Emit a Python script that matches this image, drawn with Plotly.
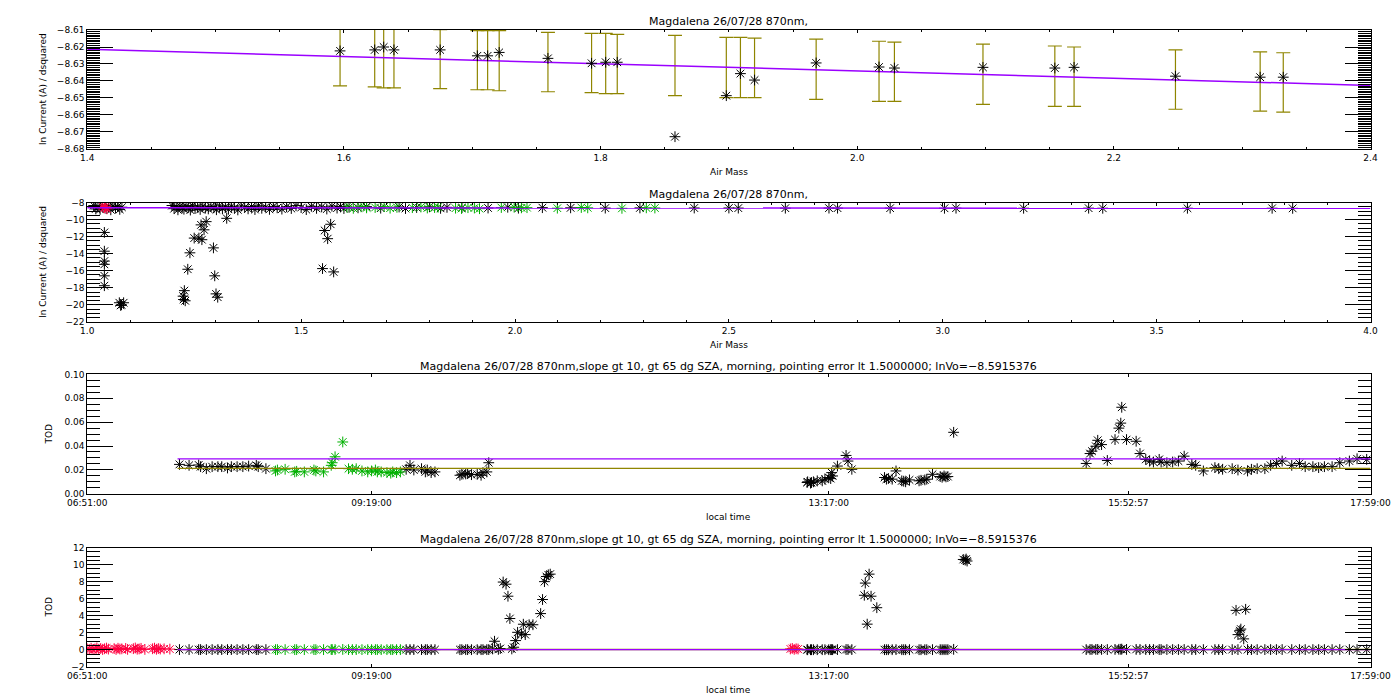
import plotly.graph_objects as go

# ---------------- constants from the chart ----------------
ln_vo = -8.5915376          # intercept (from title)
tau = 0.0213                # slope of the Langley fit / mean TOD
tod_upper = 0.0293          # upper TOD limit line
line_start, line_end = "07:38", "17:59"

title_short = "Magdalena 26/07/28 870nm,"
title_long = ("Magdalena 26/07/28 870nm,slope gt 10, gt 65 dg SZA, morning, "
              "pointing error lt 1.5000000; lnVo=\u22128.5915376")

# ---------------- panel 1: selected Langley points ----------------
am1 = [1.597, 1.624, 1.631, 1.639, 1.675, 1.704, 1.712, 1.721, 1.759, 1.793,
       1.804, 1.813, 1.858, 1.898, 1.909, 1.920, 1.968, 2.017, 2.029, 2.098,
       2.154, 2.169, 2.248, 2.314, 2.332]
ln1 = [-8.6223, -8.6217, -8.6200, -8.6217, -8.6217, -8.6252, -8.6252, -8.6232, -8.6267, -8.6296,
       -8.6290, -8.6290, -8.6729, -8.6487, -8.6357, -8.6395, -8.6294, -8.6318, -8.6324, -8.6320,
       -8.6324, -8.6320, -8.6372, -8.6378, -8.6378]
err_hi = [-8.6080, -8.6085, -8.6085, -8.6085, -8.6097, -8.6103, -8.6103, -8.6103, -8.6114, -8.6120,
          -8.6120, -8.6126, -8.6131, -8.6143, -8.6143, -8.6148, -8.6154, -8.6166, -8.6171, -8.6183,
          -8.6194, -8.6200, -8.6217, -8.6229, -8.6234]
err_lo = [-8.6429, -8.6435, -8.6441, -8.6441, -8.6446, -8.6452, -8.6452, -8.6458, -8.6464, -8.6469,
          -8.6475, -8.6475, -8.6487, -8.6498, -8.6498, -8.6498, -8.6509, -8.6521, -8.6521, -8.6538,
          -8.6550, -8.6550, -8.6567, -8.6578, -8.6584]

# ---------------- panel 2: all Langley points ----------------
am2_a = [1.015, 1.020, 1.025, 1.030, 1.036, 1.044, 1.050, 1.055, 1.060, 1.066, 1.071, 1.076, 1.081]
ln2_a = [-8.35, -8.75, -8.45, -8.80, -8.40, -8.70, -8.50, -8.85, -8.40, -8.65, -8.45, -8.80, -8.55]
am2_b = [1.198, 1.203, 1.208, 1.212, 1.217, 1.222, 1.226, 1.231, 1.236, 1.241,
         1.246, 1.252, 1.258, 1.264, 1.270, 1.276, 1.283, 1.289, 1.296, 1.302,
         1.309, 1.316, 1.323, 1.330, 1.337, 1.344, 1.352, 1.360, 1.368, 1.376,
         1.384, 1.392, 1.400, 1.408, 1.417, 1.426, 1.435, 1.444, 1.455, 1.466,
         1.477, 1.488, 1.500, 1.512, 1.524, 1.536, 1.548, 1.560, 1.572, 1.584]
ln2_b = [-8.35, -8.72, -8.48, -8.85, -8.40, -8.63, -8.78, -8.44, -8.58, -8.88,
         -8.37, -8.69, -8.52, -8.81, -8.42, -8.66, -8.75, -8.46, -8.60, -8.84,
         -8.39, -8.71, -8.50, -8.79, -8.43, -8.64, -8.86, -8.41, -8.57, -8.74,
         -8.47, -8.82, -8.38, -8.67, -8.53, -8.80, -8.45, -8.62, -8.77, -8.49,
         -8.70, -8.36, -8.59, -8.83, -8.44, -8.68, -8.51, -8.76, -8.42, -8.65]
am2_c = [1.592, 1.600, 1.612, 1.633, 1.653, 1.686, 1.729, 1.744, 1.770, 1.800,
         1.826, 1.841, 1.876, 1.937, 1.983, 2.008, 2.064, 2.130, 2.211, 2.292, 2.419]
ln2_c = [-8.45, -8.70, -8.55, -8.62, -8.48, -8.66, -8.52, -8.70, -8.58, -8.50,
         -8.68, -8.56, -8.60, -8.64, -8.55, -8.66, -8.60, -8.62, -8.65, -8.63, -8.64]
am2_d = [2.500, 2.522, 2.632, 2.734, 2.754, 2.877, 3.004, 3.031, 3.189, 3.341, 3.374, 3.572, 3.770, 3.818]
ln2_d = [-8.64, -8.65, -8.66, -8.65, -8.66, -8.66, -8.67, -8.66, -8.67, -8.66, -8.67, -8.67, -8.67, -8.68]
am2_out = [1.040, 1.040, 1.040, 1.040, 1.040, 1.040, 1.075, 1.080, 1.085, 1.078,
           1.224, 1.225, 1.227, 1.229, 1.235, 1.240, 1.250, 1.261, 1.266, 1.268,
           1.273, 1.278, 1.295, 1.298, 1.301, 1.305, 1.326, 1.550, 1.555, 1.562,
           1.569, 1.576]
ln2_out = [-11.51, -13.71, -14.87, -15.25, -16.60, -17.76, -19.76, -20.00, -19.76, -20.07,
           -18.99, -19.38, -18.34, -19.53, -15.83, -13.90, -12.17, -12.17, -10.62, -12.36,
           -11.20, -10.24, -13.32, -16.60, -18.72, -19.11, -9.85, -15.75, -11.28, -12.24,
           -10.55, -16.14]
am2_green = [1.607, 1.622, 1.640, 1.653, 1.673, 1.694, 1.708, 1.724, 1.760, 1.780,
             1.795, 1.812, 1.820, 1.861, 1.875, 1.890, 1.905, 1.917, 1.968, 1.998,
             2.015, 2.028, 2.099, 2.155, 2.170, 2.250, 2.307, 2.327]
ln2_green = [-8.55, -8.68, -8.50, -8.62, -8.58, -8.48, -8.66, -8.56, -8.60, -8.52,
             -8.64, -8.58, -8.55, -8.66, -8.70, -8.60, -8.64, -8.72, -8.58, -8.55,
             -8.62, -8.60, -8.66, -8.58, -8.62, -8.68, -8.62, -8.64]
am2_red = [1.035, 1.040, 1.043, 1.046]
ln2_red = [-8.45, -8.62, -8.50, -8.74]

# ---------------- panel 3: filtered TOD vs local time ----------------
t3_black = ["07:39", "07:44", "07:49", "07:50", "07:53", "07:56", "07:59", "08:01", "08:04", "08:06",
            "08:09", "08:12", "08:15", "08:19", "08:20", "08:24",
            "09:37", "09:39", "09:41", "09:45", "09:47", "09:48", "09:50", "09:52", "10:05", "10:06",
            "10:08", "10:09", "10:11", "10:14", "10:16", "10:17", "10:19", "10:20",
            "13:05:42", "13:06", "13:07:30", "13:08", "13:09", "13:11", "13:13:36", "13:15", "13:17", "13:18",
            "13:18:30", "13:19", "13:21:30", "13:26", "13:27", "13:29",
            "13:46", "13:47", "13:48", "13:50", "13:52", "13:55", "13:56", "13:57", "13:59", "14:04",
            "14:05", "14:07", "14:08", "14:11", "14:15", "14:16", "14:17", "14:18", "14:19", "14:22",
            "15:31", "15:33", "15:34", "15:36", "15:37", "15:39", "15:42", "15:46", "15:48", "15:49",
            "15:49:30", "15:52", "15:57", "15:59",
            "16:02", "16:04", "16:06", "16:09", "16:10", "16:13", "16:16", "16:19", "16:22", "16:26",
            "16:28", "16:32", "16:38", "16:40", "16:42", "16:47", "16:50", "16:55", "16:57",
            "17:00", "17:04", "17:07", "17:10", "17:13", "17:18", "17:22", "17:25", "17:29", "17:32",
            "17:35", "17:39", "17:43", "17:48", "17:52", "17:57"]
v3_black = [0.0246, 0.0238, 0.0241, 0.0227, 0.0210, 0.0227, 0.0227, 0.0227, 0.0216, 0.0227,
            0.0227, 0.0227, 0.0232, 0.0238, 0.0227, 0.0210,
            0.0205, 0.0238, 0.0199, 0.0210, 0.0183, 0.0199, 0.0177, 0.0183, 0.0155, 0.0163,
            0.0166, 0.0169, 0.0160, 0.0163, 0.0155, 0.0177, 0.0183, 0.0260,
            0.0094, 0.0100, 0.0089, 0.0094, 0.0100, 0.0108, 0.0108, 0.0122, 0.0136, 0.0127,
            0.0177, 0.0149, 0.0232, 0.0321, 0.0274, 0.0205,
            0.0136, 0.0122, 0.0127, 0.0122, 0.0191, 0.0108, 0.0105, 0.0100, 0.0116, 0.0108,
            0.0113, 0.0116, 0.0122, 0.0163, 0.0144, 0.0138, 0.0149, 0.0141, 0.0144, 0.0515,
            0.0254, 0.0337, 0.0357, 0.0398, 0.0448, 0.0412, 0.0279, 0.0454, 0.0550, 0.0592,
            0.0725, 0.0454, 0.0440, 0.0337,
            0.0288, 0.0274, 0.0266, 0.0288, 0.0266, 0.0260, 0.0266, 0.0274, 0.0315, 0.0246,
            0.0238, 0.0191, 0.0219, 0.0210, 0.0205, 0.0210, 0.0199, 0.0191, 0.0205,
            0.0210, 0.0210, 0.0238, 0.0254, 0.0274, 0.0238, 0.0254, 0.0227, 0.0227, 0.0219,
            0.0227, 0.0227, 0.0260, 0.0274, 0.0293, 0.0288]
t3_green = ["08:29", "08:30", "08:34", "08:39", "08:40", "08:44", "08:49", "08:50", "08:54", "08:58",
            "08:58:30", "09:00", "09:04", "09:07", "09:09", "09:11", "09:14", "09:17", "09:19", "09:21",
            "09:22", "09:24", "09:27", "09:29", "09:30", "09:32", "09:34"]
v3_green = [0.0191, 0.0199, 0.0205, 0.0183, 0.0188, 0.0183, 0.0199, 0.0191, 0.0183, 0.0238,
            0.0260, 0.0310, 0.0434, 0.0210, 0.0205, 0.0210, 0.0191, 0.0183, 0.0191, 0.0199,
            0.0183, 0.0183, 0.0177, 0.0172, 0.0183, 0.0177, 0.0183]

# ---------------- panel 4: all TOD values (filtered ones + the rest) ----------------
t4_red = ["06:51", "06:52", "06:53", "06:54", "06:55", "06:56", "06:57", "06:58", "06:59", "07:00",
          "07:01", "07:02", "07:05", "07:06", "07:07", "07:08", "07:09", "07:11", "07:12", "07:15",
          "07:16", "07:17", "07:18", "07:19", "07:21", "07:25", "07:26", "07:27", "07:28", "07:29",
          "07:31", "07:34", "12:57", "12:58", "12:59", "13:00", "13:01"]
v4_red = [0.12, 0.05, 0.18, 0.02, 0.10, 0.22, 0.06, 0.15, 0.03, 0.12,
          0.20, 0.08, 0.14, 0.04, 0.18, 0.09, 0.11, 0.16, 0.05, 0.13,
          0.21, 0.07, 0.10, 0.17, 0.04, 0.12, 0.19, 0.06, 0.14, 0.09,
          0.11, 0.08, 0.10, 0.16, 0.05, 0.12, 0.09]
t4_black_extra = ["10:22", "10:23", "10:25", "10:26", "10:27:30", "10:29", "10:30", "10:31", "10:32", "10:33",
                  "10:34", "10:35", "10:37", "10:38", "10:39", "10:41", "10:43", "10:47", "10:48", "10:49",
                  "10:50", "10:51", "10:52", "13:35:30", "13:36", "13:37", "13:38", "13:39", "13:42", "14:27",
                  "14:28", "14:28:30", "14:29", "16:49", "16:50", "16:51", "16:51:30", "16:53", "16:54"]
v4_black_extra = [0.10, 1.00, 0.05, 0.15, 7.95, 7.70, 6.29, 3.67, 0.10, 0.30,
                  1.08, 2.05, 1.86, 3.00, 1.78, 2.94, 2.94, 4.25, 5.90, 8.00,
                  8.60, 8.80, 8.88, 6.40, 7.83, 3.01, 8.88, 6.29, 4.94, 10.60,
                  10.53, 10.65, 10.42, 4.63, 1.78, 2.24, 2.43, 1.28, 4.75]

time_ticks = ["06:51:00", "09:19:00", "13:17:00", "15:52:57", "17:59:00"]

# ---------------- styling ----------------
FONT = "DejaVu Sans"
BLACK, GREEN, RED = "#000000", "#00b000", "#ff0040"
PURPLE, OLIVE = "#9a00ff", "#8f8500"
W, H = 1400, 700
X0, X1 = 61, 1382
PANELS = [(17.3, 137.7), (192.3, 313.3), (366.7, 487.7), (542.3, 663.3)]


def hrs(s):
    p = [int(v) for v in s.split(":")]
    while len(p) < 3:
        p.append(0)
    return p[0] + p[1] / 60 + p[2] / 3600


def ydom(top, bot):
    return [1 - bot / H, 1 - top / H]


fig = go.Figure()


def stars(x, y, color, n):
    fig.add_trace(go.Scatter(
        x=x, y=y, mode="markers", xaxis="x" + ("" if n == 1 else str(n)),
        yaxis="y" + ("" if n == 1 else str(n)), hoverinfo="skip",
        marker=dict(symbol="asterisk-open", size=9, color=color,
                    line=dict(color=color, width=1))))


def hline(x, y, color, n, width=1.2):
    fig.add_trace(go.Scatter(
        x=x, y=y, mode="lines", xaxis="x" + ("" if n == 1 else str(n)),
        yaxis="y" + ("" if n == 1 else str(n)), hoverinfo="skip",
        line=dict(color=color, width=width)))


# panel 1
mid = [(a + b) / 2 for a, b in zip(err_lo, err_hi)]
half = [(b - a) / 2 for a, b in zip(err_lo, err_hi)]
fig.add_trace(go.Scatter(x=am1, y=mid, mode="markers", hoverinfo="skip", cliponaxis=False,
                         marker=dict(size=1, color="rgba(0,0,0,0)"),
                         error_y=dict(type="data", array=half, visible=True,
                                      color=OLIVE, thickness=1.2, width=7)))
hline([1.4, 2.4], [ln_vo - tau * 1.4, ln_vo - tau * 2.4], PURPLE, 1, 1.5)
stars(am1, ln1, BLACK, 1)

# panel 2
for xs, ys in [(am2_a, ln2_a), (am2_b, ln2_b), (am2_c, ln2_c), (am2_d, ln2_d), (am2_out, ln2_out)]:
    stars(xs, ys, BLACK, 2)
stars(am2_green, ln2_green, GREEN, 2)
stars(am2_red, ln2_red, RED, 2)
hline([1.0, 4.0], [ln_vo - tau * 1.0, ln_vo - tau * 4.0], PURPLE, 2, 1.5)

# panel 3
stars([hrs(t) for t in t3_black], v3_black, BLACK, 3)
stars([hrs(t) for t in t3_green], v3_green, GREEN, 3)
tl = [hrs(line_start), hrs(line_end)]
hline(tl, [tod_upper, tod_upper], PURPLE, 3)
hline(tl, [tau, tau], OLIVE, 3)

# panel 4
stars([hrs(t) for t in t3_black + t4_black_extra], v3_black + v4_black_extra, BLACK, 4)
stars([hrs(t) for t in t3_green], v3_green, GREEN, 4)
stars([hrs(t) for t in t4_red], v4_red, RED, 4)
hline(tl, [tau, tau], OLIVE, 4, 1.5)
hline(tl, [tod_upper, tod_upper], PURPLE, 4, 1.2)

# ---------------- axes ----------------
tickfont = dict(family=FONT, size=9, color="black")


def xax(n, rng, **kw):
    d = dict(domain=[X0 / W, X1 / W], range=rng, anchor="y" + ("" if n == 1 else str(n)),
             showline=True, linecolor="black", linewidth=1, mirror="ticks",
             ticks="inside", ticklen=3, tickwidth=1, tickcolor="black",
             showgrid=False, zeroline=False, tickfont=tickfont)
    d.update(kw)
    return d


def yax(n, rng, dtick, mdtick, fmt):
    top, bot = PANELS[n - 1]
    return dict(domain=ydom(top, bot), range=rng, anchor="x" + ("" if n == 1 else str(n)),
                showline=True, linecolor="black", linewidth=1, mirror="ticks",
                ticks="inside", ticklen=26, tickwidth=1, tickcolor="black",
                tick0=rng[0], dtick=dtick, tickformat=fmt,
                minor=dict(ticks="inside", ticklen=13, dtick=mdtick, tickcolor="black",
                           tickwidth=1, showgrid=False),
                showgrid=False, zeroline=False, tickfont=tickfont)


t_rng = [hrs(time_ticks[0]), hrs(time_ticks[-1])]
tvals = [hrs(t) for t in time_ticks]

fig.update_layout(
    width=W, height=H, margin=dict(l=0, r=0, t=0, b=0),
    paper_bgcolor="white", plot_bgcolor="white", showlegend=False,
    font=dict(family=FONT, color="black"),
    xaxis=xax(1, [1.4, 2.4], tick0=1.4, dtick=0.2, tickformat=".1f",
              minor=dict(ticks="inside", ticklen=2, dtick=0.05, tickcolor="black", showgrid=False)),
    yaxis=yax(1, [-8.68, -8.61], 0.01, 0.001, ".2f"),
    xaxis2=xax(2, [1.0, 4.0], tick0=1.0, dtick=0.5, tickformat=".1f",
               minor=dict(ticks="inside", ticklen=2, dtick=0.1, tickcolor="black", showgrid=False)),
    yaxis2=yax(2, [-22, -8], 2, 0.5, "d"),
    xaxis3=xax(3, t_rng, tickmode="array", tickvals=tvals, ticktext=time_ticks),
    yaxis3=yax(3, [0, 0.10], 0.02, 0.005, ".2f"),
    xaxis4=xax(4, t_rng, tickmode="array", tickvals=tvals, ticktext=time_ticks),
    yaxis4=yax(4, [-2, 12], 2, 0.5, "d"),
)

# ---------------- titles & axis labels ----------------
xc = (X0 + X1) / 2 / W
ann = []
titles = [title_short, title_short, title_long, title_long]
xtitles = ["Air Mass", "Air Mass", "local time", "local time"]
ytitles = ["ln Current (A) / dsquared", "ln Current (A) / dsquared", "TOD", "TOD"]
for (top, bot), tt, xt, yt in zip(PANELS, titles, xtitles, ytitles):
    ann.append(dict(text=tt, x=xc, y=1 - (top - 8.5) / H, xref="paper", yref="paper",
                    xanchor="center", yanchor="middle", showarrow=False,
                    font=dict(family=FONT, size=11, color="black")))
    ann.append(dict(text=xt, x=xc, y=1 - (bot + 23.5) / H, xref="paper", yref="paper",
                    xanchor="center", yanchor="middle", showarrow=False,
                    font=dict(family=FONT, size=9, color="black")))
    ann.append(dict(text=yt, x=(16 if yt != "TOD" else 22) / W, y=1 - (top + bot) / 2 / H,
                    xref="paper", yref="paper", xanchor="center", yanchor="middle",
                    textangle=-90, showarrow=False,
                    font=dict(family=FONT, size=9, color="black")))
fig.update_layout(annotations=ann)

fig.write_html("out.html")
